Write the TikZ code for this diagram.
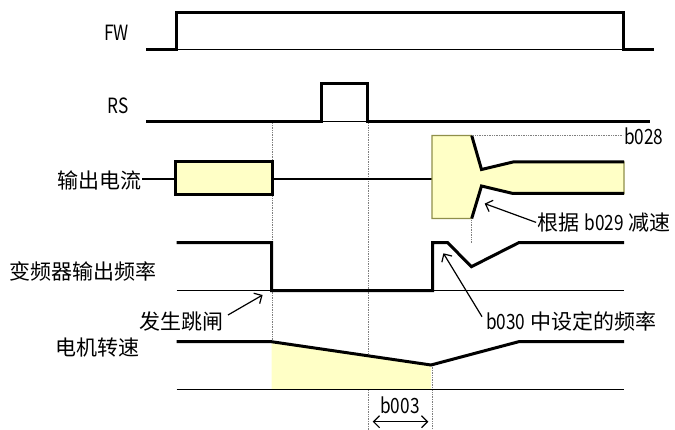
\documentclass[tikz,border=0pt]{standalone}
\usepackage{fontspec}
\setmainfont{Noto Sans CJK SC}
\newfontfamily\narrowfont[FakeStretch=0.82]{Noto Sans CJK SC}
\usetikzlibrary{arrows.meta}
\definecolor{lemon}{HTML}{FFFFC6}
\definecolor{rim}{HTML}{8F8F4A}
\definecolor{dotgray}{HTML}{7F7F7F}

\begin{document}
\begin{tikzpicture}[x=1pt, y=-1pt,
    trace/.style={line width=3pt},
    base/.style={line width=1.2pt},
    vguide/.style={dotgray, densely dotted, line width=0.7pt},
    lab/.style={font=\fontsize{21}{24}\selectfont, inner sep=0pt},
    pointer/.style={-{Straight Barb[length=6pt,width=12pt]}, line width=1.2pt},
    span/.style={{Straight Barb[length=6pt,width=12pt]}-{Straight Barb[length=6pt,width=12pt]}, line width=1.2pt}]
  % fixed 675 x 430 canvas, y runs downwards
  \path[use as bounding box] (0,0) rectangle (675,430);

  % ================= vertical guides =================
  \draw[vguide] (272,121.7) -- (272,389.3);
  \draw[vguide] (368,121.7) -- (368,430);
  \draw[vguide] (471.7,218.5) -- (471.7,242.7);
  \draw[vguide] (432,365) -- (432,430);

  % ================= FW =================
  \node[lab, anchor=east] (lblFW) at (129,33) {\narrowfont FW};
  \draw[base] (146,49.3) -- (654,49.3);
  \draw[trace] (146,49.3) -- (176.5,49.3) -- (176.5,13) -- (623,13) -- (623,49.3) -- (654,49.3);

  % ================= RS =================
  \node[lab, anchor=east] (lblRS) at (129,105.6) {\narrowfont RS};
  \draw[base] (146,121.7) -- (650,121.7);
  \draw[trace] (146,121.7) -- (321,121.7) -- (321,83.5) -- (367,83.5) -- (367,121.7) -- (650,121.7);

  % ================= output current =================
  \node[lab, anchor=east] (lblIout) at (142,180) {输出电流};
  \draw[line width=2pt] (142,178.7) -- (175,178.7) (272.4,178.7) -- (432,178.7);
  \draw[trace, fill=lemon] (175,161.6) rectangle (272.4,194.4);
  % restart peak, then current limited down to the running level
  \draw[rim, fill=lemon, line width=1.2pt]
    (432,135.5) -- (471.7,135.5) -- (481.5,169.5) -- (513,162) -- (624,162)
    -- (624,193.5) -- (513,193.5) -- (481.5,186) -- (471.7,218.5) -- (432,218.5) -- cycle;
  \draw[trace] (471.7,135.5) -- (481.5,169.5) -- (513,162) -- (624,162);
  \draw[trace] (624,193.5) -- (513,193.5) -- (481.5,186) -- (471.7,218.5);
  \draw[vguide] (471.7,135.5) -- (623,135.5);
  \node[lab, anchor=west] (lblB028) at (624,136) {\narrowfont b028};
  \node[lab, anchor=west] (lblB029) at (537.6,222.4) {根据 {\narrowfont b029} 减速};
  \coordinate (decelTip) at (484.7,203.6);
  \draw[pointer] ([xshift=-1.5pt]lblB029.west) -- (decelTip);

  % ================= inverter output frequency =================
  \node[lab, anchor=west] (lblFreq) at (9.5,271) {变频器输出频率};
  \draw[base] (176.5,290.7) -- (624,290.7);
  \draw[trace] (176.5,242.7) -- (271.5,242.7) -- (271.5,290.7) -- (432.5,290.7) -- (432.5,242.7)
    -- (447.7,242.7) -- (471.4,266.7) -- (518.7,242.7) -- (624,242.7);
  \node[lab, anchor=east] (lblTrip) at (224,321.7) {发生跳闸};
  \coordinate (tripTip) at (262.6,295);
  \draw[pointer] ([shift={(4pt,6.7pt)}]lblTrip.east) -- (tripTip);
  \node[lab, anchor=west] (lblB030) at (486,321.7) {{\narrowfont b030} 中设定的频率};
  \coordinate (restartTip) at (443.4,253.3);
  \draw[pointer] ([shift={(-4pt,5pt)}]lblB030.west) -- (restartTip);

  % ================= motor speed =================
  \node[lab, anchor=east] (lblSpeed) at (140,347.7) {电机转速};
  \fill[lemon] (271.5,341.7) -- (431,365) -- (431,389.3) -- (271.5,389.3) -- cycle;
  \draw[base] (176.5,389.3) -- (624,389.3);
  \draw[trace] (176.5,341.7) -- (271.5,341.7) -- (431,365) -- (518.7,341.7) -- (624,341.7);

  % ================= b003 wait time =================
  \node[lab] (lblB003) at (400,405.5) {\narrowfont b003};
  \coordinate (waitL) at (372.7,421.7);
  \coordinate (waitR) at (428.3,421.7);
  \draw[span] (waitL) -- (waitR);
\end{tikzpicture}
\end{document}
